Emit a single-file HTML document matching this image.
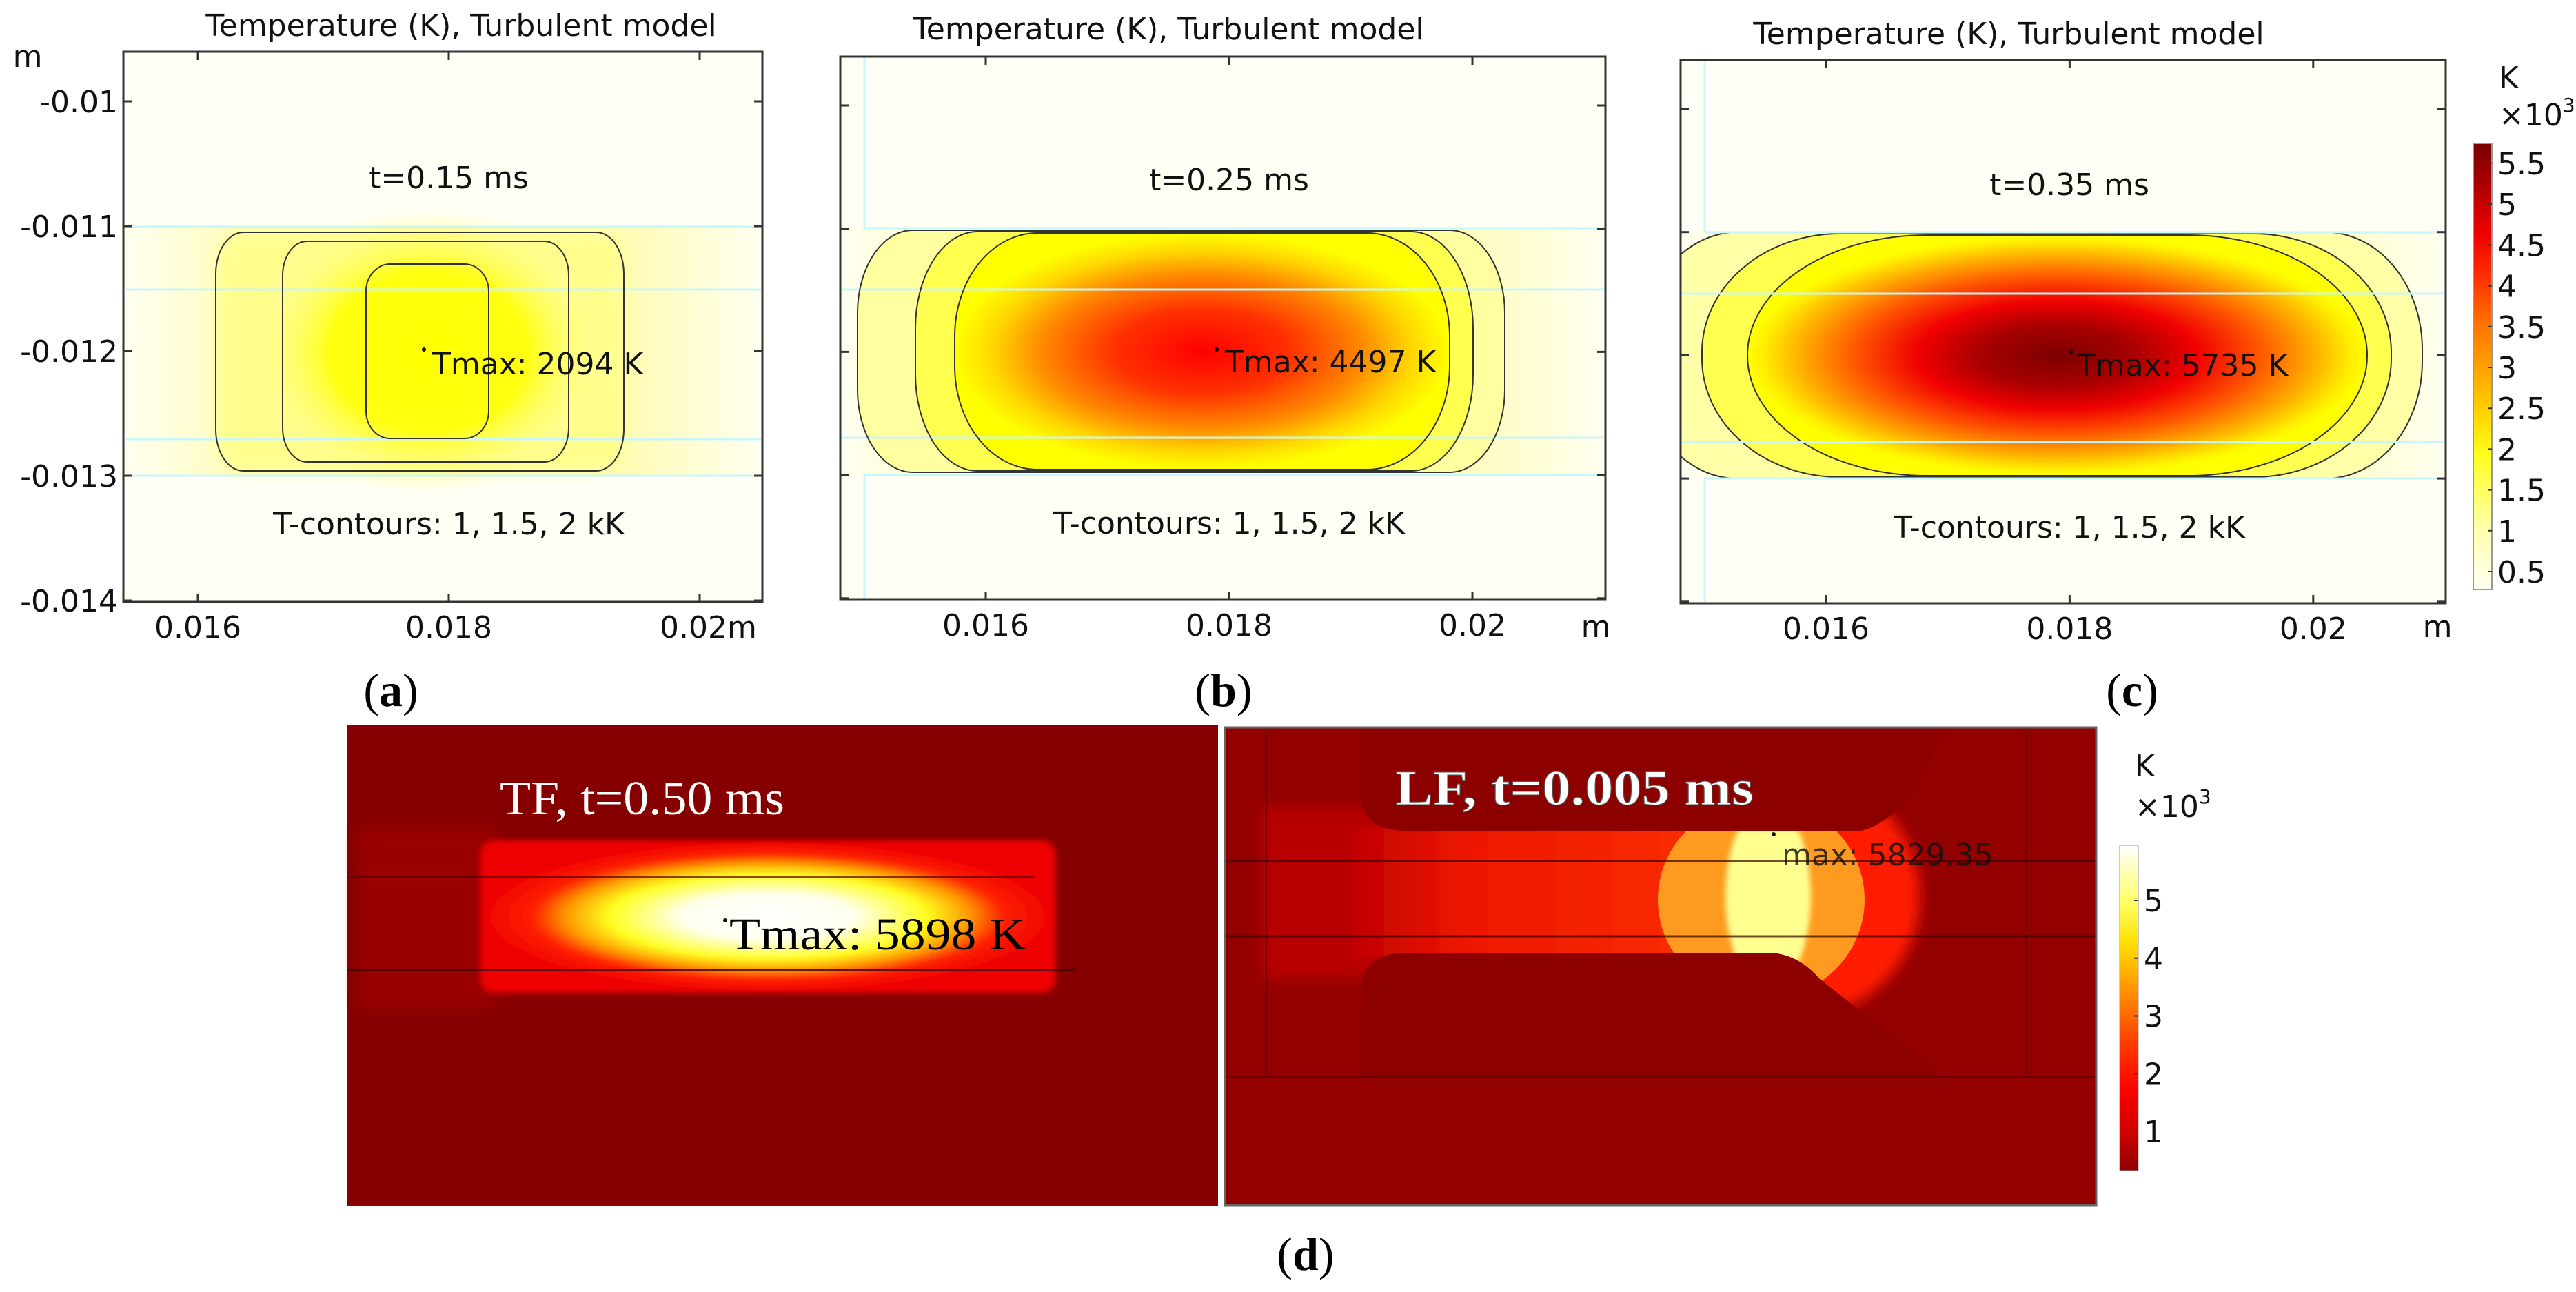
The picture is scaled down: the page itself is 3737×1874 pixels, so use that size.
<!DOCTYPE html>
<html><head><meta charset="utf-8"><style>
html,body{margin:0;padding:0;background:#fff}
svg{display:block}
.t{font-family:"DejaVu Sans","Liberation Sans",sans-serif;font-size:44px;fill:#111}
.s{font-family:"Liberation Serif",serif}
</style></head><body>
<svg id="fig" width="3737" height="1874" viewBox="0 0 3737 1874" xmlns="http://www.w3.org/2000/svg">
<defs>
<linearGradient id="bandH" x1="0" x2="1" y1="0" y2="0">
<stop offset="0" stop-color="#fffff0"/><stop offset="0.2" stop-color="#fffcb8"/><stop offset="0.8" stop-color="#fffcb8"/><stop offset="1" stop-color="#fffff0"/></linearGradient>
<radialGradient id="gA" cx="0.5" cy="0.5" r="0.5"><stop offset="0" stop-color="#ffff00"/><stop offset="0.55" stop-color="#ffff10"/><stop offset="1" stop-color="#ffffa8" stop-opacity="0"/></radialGradient>
<radialGradient id="gB" cx="0.5" cy="0.5" r="0.5"><stop offset="0" stop-color="#ff0000"/><stop offset="0.35" stop-color="#ff3000"/><stop offset="0.65" stop-color="#ff8a00"/><stop offset="0.85" stop-color="#ffd800"/><stop offset="1" stop-color="#ffff00"/></radialGradient>
<radialGradient id="gC" cx="0.5" cy="0.5" r="0.5"><stop offset="0" stop-color="#7c0000"/><stop offset="0.25" stop-color="#a80000"/><stop offset="0.45" stop-color="#f00000"/><stop offset="0.65" stop-color="#ff5500"/><stop offset="0.82" stop-color="#ffaa00"/><stop offset="0.95" stop-color="#ffee00"/><stop offset="1" stop-color="#ffff00"/></radialGradient>
<radialGradient id="gD" cx="0.5" cy="0.5" r="0.5"><stop offset="0" stop-color="#ffffff"/><stop offset="0.3" stop-color="#fffff0"/><stop offset="0.55" stop-color="#ffff20"/><stop offset="0.7" stop-color="#ff9a00"/><stop offset="0.82" stop-color="#ff2000"/><stop offset="1" stop-color="#ee0000"/></radialGradient>
<linearGradient id="stream" x1="0" x2="1"><stop offset="0" stop-color="#c00000"/><stop offset="0.25" stop-color="#ee1800"/><stop offset="1" stop-color="#ff3800"/></linearGradient>
<linearGradient id="cbC" x1="0" x2="0" y1="1" y2="0">
<stop offset="0" stop-color="#fffff4"/><stop offset="0.13" stop-color="#ffffb0"/><stop offset="0.3" stop-color="#ffff20"/><stop offset="0.4" stop-color="#ffd000"/><stop offset="0.5" stop-color="#ffa000"/><stop offset="0.6" stop-color="#ff7000"/><stop offset="0.7" stop-color="#ff3000"/><stop offset="0.8" stop-color="#ee0000"/><stop offset="0.9" stop-color="#b00000"/><stop offset="1" stop-color="#780000"/></linearGradient>
<linearGradient id="cbD" x1="0" x2="0" y1="1" y2="0">
<stop offset="0" stop-color="#900000"/><stop offset="0.12" stop-color="#d00000"/><stop offset="0.25" stop-color="#ff0000"/><stop offset="0.4" stop-color="#ff4000"/><stop offset="0.55" stop-color="#ff9000"/><stop offset="0.7" stop-color="#ffe000"/><stop offset="0.82" stop-color="#ffff60"/><stop offset="1" stop-color="#ffffff"/></linearGradient>
<clipPath id="clipB"><rect x="1385" y="338" width="718" height="343" rx="120" ry="150"/></clipPath>
<clipPath id="clipC"><rect x="2535" y="341" width="899" height="349" rx="260" ry="174"/></clipPath>
<clipPath id="boxC"><rect x="2438" y="87" width="1110" height="788"/></clipPath>
<filter id="blur8"><feGaussianBlur stdDeviation="10"/></filter>
<filter id="blur3"><feGaussianBlur stdDeviation="4"/></filter>
</defs>
<rect width="3737" height="1874" fill="#fff"/>

<!-- Panel A -->
<g>
<rect x="179" y="75" width="927" height="798" fill="#fffff6"/>
<rect x="181" y="329" width="923" height="361" fill="url(#bandH)"/>
<rect x="313" y="337" width="592" height="346" rx="40" fill="#ffff70" opacity="0.6" filter="url(#blur8)"/>
<ellipse cx="622" cy="510" rx="260" ry="210" fill="url(#gA)"/>
<line x1="181" x2="1104" y1="329" y2="329" stroke="#c8f6fa" stroke-width="3"/>
<line x1="181" x2="1104" y1="420" y2="420" stroke="#c8f6fa" stroke-width="3"/>
<line x1="181" x2="1104" y1="637" y2="637" stroke="#c8f6fa" stroke-width="3"/>
<line x1="181" x2="1104" y1="690" y2="690" stroke="#c8f6fa" stroke-width="3"/>
<rect x="313" y="337" width="592" height="346" rx="40" ry="60" fill="none" stroke="#333" stroke-width="2"/>
<rect x="410" y="350" width="415" height="320" rx="35" ry="50" fill="none" stroke="#333" stroke-width="2"/>
<rect x="531" y="383" width="178" height="253" rx="35" ry="40" fill="none" stroke="#333" stroke-width="2"/>
<rect x="179" y="75" width="927" height="798" fill="none" stroke="#333" stroke-width="3"/>
<text class="t" x="669" y="52" font-size="46" text-anchor="middle">Temperature (K), Turbulent model</text>
<text class="t" x="651" y="273" text-anchor="middle">t=0.15 ms</text>
<text class="t" x="651" y="775" text-anchor="middle">T-contours: 1, 1.5, 2 kK</text>
<circle cx="615" cy="507" r="3" fill="#111"/>
<text class="t" x="627" y="543">Tmax: 2094 K</text>
<text class="t" x="40" y="97" text-anchor="middle">m</text>
<g id="ticksA"></g>
</g>

<!-- Panel B -->
<g>
<rect x="1219" y="82" width="1110" height="788" fill="#fffff6"/>
<rect x="1221" y="331" width="1106" height="358" fill="url(#bandH)"/>
<rect x="1244" y="334" width="939" height="351" rx="80" ry="120" fill="#ffffa0"/>
<rect x="1328" y="336" width="809" height="347" rx="90" ry="140" fill="#ffff50"/>
<rect x="1385" y="338" width="718" height="343" fill="url(#gB)" clip-path="url(#clipB)"/>
<line x1="1254" x2="2327" y1="331" y2="331" stroke="#c8f6fa" stroke-width="3"/>
<line x1="1221" x2="2327" y1="420" y2="420" stroke="#c8f6fa" stroke-width="3"/>
<line x1="1221" x2="2327" y1="635" y2="635" stroke="#c8f6fa" stroke-width="3"/>
<line x1="1254" x2="2327" y1="689" y2="689" stroke="#c8f6fa" stroke-width="3"/>
<line x1="1254" x2="1254" y1="84" y2="331" stroke="#c8f6fa" stroke-width="3"/>
<line x1="1254" x2="1254" y1="689" y2="868" stroke="#c8f6fa" stroke-width="3"/>
<rect x="1244" y="334" width="939" height="351" rx="80" ry="120" fill="none" stroke="#333" stroke-width="2"/>
<rect x="1328" y="336" width="809" height="347" rx="90" ry="140" fill="none" stroke="#333" stroke-width="2"/>
<rect x="1385" y="338" width="718" height="343" rx="120" ry="150" fill="none" stroke="#333" stroke-width="2"/>
<rect x="1219" y="82" width="1110" height="788" fill="none" stroke="#333" stroke-width="3"/>
<text class="t" x="1695" y="57" font-size="46" text-anchor="middle">Temperature (K), Turbulent model</text>
<text class="t" x="1783" y="276" text-anchor="middle">t=0.25 ms</text>
<text class="t" x="1783" y="774" text-anchor="middle">T-contours: 1, 1.5, 2 kK</text>
<circle cx="1765" cy="507" r="3" fill="#111"/>
<text class="t" x="1777" y="540">Tmax: 4497 K</text>
<text class="t" x="2315" y="924" text-anchor="middle">m</text>
<g id="ticksB"></g>
</g>

<!-- Panel C -->
<g>
<rect x="2438" y="87" width="1110" height="788" fill="#fffff6"/>
<g clip-path="url(#boxC)">
<rect x="2440" y="337" width="1106" height="357" fill="url(#bandH)"/>
<rect x="2380" y="337" width="1134" height="357" rx="140" ry="170" fill="#ffffa8"/>
<rect x="2469" y="339" width="1000" height="353" rx="200" ry="172" fill="#ffff50"/>
<rect x="2535" y="341" width="899" height="349" fill="url(#gC)" clip-path="url(#clipC)"/>
<rect x="2380" y="337" width="1134" height="357" rx="140" ry="170" fill="none" stroke="#333" stroke-width="2"/>
<rect x="2469" y="339" width="1000" height="353" rx="200" ry="172" fill="none" stroke="#333" stroke-width="2"/>
<rect x="2535" y="341" width="899" height="349" rx="260" ry="174" fill="none" stroke="#333" stroke-width="2"/>
</g>
<line x1="2473" x2="3546" y1="337" y2="337" stroke="#c8f6fa" stroke-width="3"/>
<line x1="2440" x2="3546" y1="426" y2="426" stroke="#c8f6fa" stroke-width="3"/>
<line x1="2440" x2="3546" y1="641" y2="641" stroke="#c8f6fa" stroke-width="3"/>
<line x1="2473" x2="3546" y1="694" y2="694" stroke="#c8f6fa" stroke-width="3"/>
<line x1="2473" x2="2473" y1="89" y2="337" stroke="#c8f6fa" stroke-width="3"/>
<line x1="2473" x2="2473" y1="694" y2="873" stroke="#c8f6fa" stroke-width="3"/>
<rect x="2438" y="87" width="1110" height="788" fill="none" stroke="#333" stroke-width="3"/>
<text class="t" x="2914" y="64" font-size="46" text-anchor="middle">Temperature (K), Turbulent model</text>
<text class="t" x="3002" y="283" text-anchor="middle">t=0.35 ms</text>
<text class="t" x="3002" y="780" text-anchor="middle">T-contours: 1, 1.5, 2 kK</text>
<circle cx="3005" cy="511" r="3" fill="#111"/>
<text class="t" x="3013" y="545">Tmax: 5735 K</text>
<text class="t" x="3536" y="924" text-anchor="middle">m</text>
<g id="ticksC"></g>
<rect x="3588" y="208" width="27" height="647" fill="url(#cbC)" stroke="#999" stroke-width="2"/>
<text class="t" x="3625" y="128">K</text>
<text class="t" x="3625" y="182">×10<tspan font-size="28" dy="-20">3</tspan></text>
<g id="cbTicksC"></g>
</g>

<!-- Panel D left -->
<g>
<rect x="504" y="1052" width="1263" height="697" fill="#860000"/>
<rect x="520" y="1200" width="200" height="260" fill="#9a0000" filter="url(#blur8)"/>
<rect x="697" y="1219" width="834" height="221" rx="20" fill="url(#gD)" filter="url(#blur3)"/>
<line x1="504" x2="1500" y1="1272" y2="1272" stroke="#5a0000" stroke-width="3" opacity="0.7"/>
<line x1="504" x2="1560" y1="1407" y2="1407" stroke="#3a0000" stroke-width="3" opacity="0.8"/>
<text class="s" x="725" y="1181" font-size="70" fill="#fff" textLength="413" lengthAdjust="spacingAndGlyphs">TF, t=0.50 ms</text>
<circle cx="1052" cy="1335" r="3" fill="#111"/>
<text class="s" x="1058" y="1377" font-size="66" fill="#000" textLength="430" lengthAdjust="spacingAndGlyphs">Tmax: 5898 K</text>
</g>

<!-- Panel D right -->
<g>
<rect x="1777" y="1055" width="1264" height="693" fill="#930000"/>
<rect x="1830" y="1170" width="200" height="250" fill="#b80000" filter="url(#blur8)"/>
<rect x="1960" y="1200" width="700" height="190" fill="url(#stream)" filter="url(#blur3)"/>
<ellipse cx="2610" cy="1300" rx="175" ry="175" fill="#ff1a00" filter="url(#blur8)"/>
<ellipse cx="2555" cy="1305" rx="150" ry="145" fill="#ff9a20"/>
<ellipse cx="2565" cy="1300" rx="62" ry="135" fill="#ffff90" filter="url(#blur3)"/>
<path d="M1974 1055 L1974 1150 Q1974 1205 2040 1205 L2700 1205 Q2760 1190 2800 1100 L2818 1055 Z" fill="#8c0000"/>
<path d="M1974 1562 L1974 1440 Q1974 1382 2040 1382 L2570 1382 Q2610 1385 2640 1420 L2820 1562 Z" fill="#8c0000"/>
<rect x="1777" y="1562" width="1264" height="186" fill="#930000"/>
<line x1="1777" x2="3041" y1="1249" y2="1249" stroke="#3a0000" stroke-width="3" opacity="0.7"/>
<line x1="1777" x2="3041" y1="1358" y2="1358" stroke="#3a0000" stroke-width="3" opacity="0.7"/>
<line x1="1777" x2="3041" y1="1562" y2="1562" stroke="#5a0000" stroke-width="3" opacity="0.6"/>
<line x1="1837" x2="1837" y1="1055" y2="1562" stroke="#5a0000" stroke-width="2" opacity="0.6"/>
<line x1="2940" x2="2940" y1="1055" y2="1562" stroke="#5a0000" stroke-width="2" opacity="0.6"/>
<rect x="1777" y="1055" width="1264" height="693" fill="none" stroke="#666" stroke-width="3"/>
<text class="s" x="2024" y="1167" font-size="72" font-weight="bold" fill="#fff" stroke="#555" stroke-width="1" textLength="520" lengthAdjust="spacingAndGlyphs">LF, t=0.005 ms</text>
<circle cx="2573" cy="1210" r="3" fill="#111"/>
<text class="t" x="2585" y="1255" font-size="44" fill="#3a0000" opacity="0.8">max: 5829.35</text>
<rect x="3075" y="1226" width="27" height="472" fill="url(#cbD)" stroke="#999" stroke-width="1"/>
<text class="t" x="3097" y="1126">K</text>
<text class="t" x="3097" y="1185">×10<tspan font-size="28" dy="-20">3</tspan></text>
<g id="cbTicksD"></g>
</g>

<g class="s" font-size="68" fill="#000">
<text x="567" y="1024" text-anchor="middle">(<tspan font-weight="bold">a</tspan>)</text>
<text x="1775" y="1024" text-anchor="middle">(<tspan font-weight="bold">b</tspan>)</text>
<text x="3093" y="1024" text-anchor="middle">(<tspan font-weight="bold">c</tspan>)</text>
<text x="1894" y="1842" text-anchor="middle">(<tspan font-weight="bold">d</tspan>)</text>
</g>
</svg>
<script>
const xTicks = [0.016, 0.018, 0.02];
const xTickLabelsA = ["0.016", "0.018", "0.02m"];
const xTickLabelsBC = ["0.016", "0.018", "0.02"];
const yTicks = [-0.01, -0.011, -0.012, -0.013, -0.014];
const yTickLabels = ["-0.01", "-0.011", "-0.012", "-0.013", "-0.014"];
const cbValuesC = [0.5, 1, 1.5, 2, 2.5, 3, 3.5, 4, 4.5, 5, 5.5];
const cbLabelsC = ["0.5", "1", "1.5", "2", "2.5", "3", "3.5", "4", "4.5", "5", "5.5"];
const cbValuesD = [1, 2, 3, 4, 5];
const cbLabelsD = ["1", "2", "3", "4", "5"];
const NS = "http://www.w3.org/2000/svg";
function mk(tag, attrs, parent) { const e = document.createElementNS(NS, tag); for (const k in attrs) e.setAttribute(k, attrs[k]); parent.appendChild(e); return e; }
const panels = [
  { id: "ticksA", x0: 179, x1: 1106, y0: 75, y1: 873, xs: v => 287 + (v - 0.016) * 182000, ys: v => 147 + (-0.01 - v) * 181000, xl: xTickLabelsA, yl: true },
  { id: "ticksB", x0: 1219, x1: 2329, y0: 82, y1: 870, xs: v => 1430 + (v - 0.016) * 176500, ys: v => 153 + (-0.01 - v) * 178700, xl: xTickLabelsBC, yl: false },
  { id: "ticksC", x0: 2438, x1: 3548, y0: 87, y1: 875, xs: v => 2649 + (v - 0.016) * 176700, ys: v => 158 + (-0.01 - v) * 178700, xl: xTickLabelsBC, yl: false }
];
panels.forEach(p => {
  const g = document.getElementById(p.id);
  xTicks.forEach((v, i) => {
    const x = p.xs(v);
    const t1 = mk("line", { x1: x, x2: x, y1: p.y1, y2: p.y1 - 12, stroke: "#333", "stroke-width": 3 }, g);
    
    
    mk("line", { x1: x, x2: x, y1: p.y0, y2: p.y0 + 12, stroke: "#333", "stroke-width": 3 }, g);
    const tx = mk("text", { x: x, y: p.y1 + 52, "text-anchor": "middle", class: "t" }, g);
    tx.textContent = p.xl[i];
    if (p.xl[i].endsWith("m")) { tx.setAttribute("text-anchor", "start"); tx.setAttribute("x", x - 58); }
    
    
  });
  yTicks.forEach((v, i) => {
    const y = p.ys(v);
    if (y > p.y1 + 2) return;
    const t2 = mk("line", { x1: p.x0, x2: p.x0 + 12, y1: y, y2: y, stroke: "#333", "stroke-width": 3 }, g);
    
    
    mk("line", { x1: p.x1, x2: p.x1 - 12, y1: y, y2: y, stroke: "#333", "stroke-width": 3 }, g);
    if (p.yl) {
      const ty = mk("text", { x: p.x0 - 8, y: y + 16, "text-anchor": "end", class: "t" }, g);
      ty.textContent = yTickLabels[i];
      
      
    }
  });
});
function cb(id, vals, labels, x, yOf) {
  const g = document.getElementById(id);
  vals.forEach((v, i) => {
    const y = yOf(v);
    mk("line", { x1: x - 6, x2: x, y1: y, y2: y, stroke: "#333", "stroke-width": 2 }, g);
    const t = mk("text", { x: x + 8, y: y + 16, class: "t" }, g);
    t.textContent = labels[i];
    
    
  });
}
cb("cbTicksC", cbValuesC, cbLabelsC, 3615, v => 829 - (v - 0.5) * 118.4);
cb("cbTicksD", cbValuesD, cbLabelsD, 3102, v => 1641 - (v - 1) * 83.75);
</script>
</body></html>
